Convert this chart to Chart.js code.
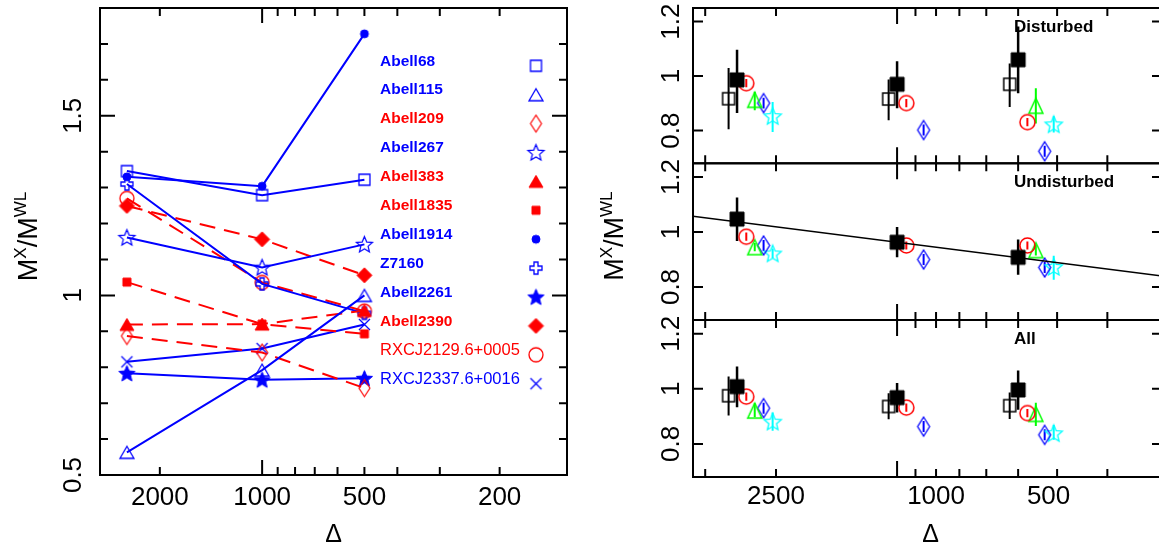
<!DOCTYPE html>
<html>
<head>
<meta charset="utf-8">
<title>M_X / M_WL versus Delta</title>
<script src="https://cdn.jsdelivr.net/npm/chart.js@4.4.1/dist/chart.umd.min.js"></script>
<style>
  html, body { margin: 0; padding: 0; background: #fff; overflow: hidden; }
  body { position: relative; width: 1159px; height: 550px; }
  .box { position: absolute; top: 0; }
</style>
</head>
<body>
<div class="box" style="left:0"><canvas id="cLeft" width="580" height="550"></canvas></div>
<div class="box" style="left:580px"><canvas id="cDist" width="600" height="550"></canvas></div>
<div class="box" style="left:580px"><canvas id="cUndist" width="600" height="550"></canvas></div>
<div class="box" style="left:580px"><canvas id="cAll" width="600" height="550"></canvas></div>
<script>
// ---------------- data ----------------
// overdensities at which the masses were compared
const deltas = [2500, 1000, 500];

// left panel: M_X / M_WL of each cluster at deltas
const clusterNames = ['Abell68', 'Abell115', 'Abell209', 'Abell267', 'Abell383', 'Abell1835',
  'Abell1914', 'Z7160', 'Abell2261', 'Abell2390', 'RXCJ2129.6+0005', 'RXCJ2337.6+0016'];
const abell68   = [1.346, 1.279, 1.322];
const abell115  = [0.563, 0.792, 1.000];
const abell209  = [0.887, 0.841, 0.742];
const abell267  = [1.161, 1.078, 1.142];
const abell383  = [0.919, 0.920, 0.958];
const abell1835 = [1.037, 0.920, 0.893];
const abell1914 = [1.330, 1.304, 1.728];
const z7160     = [1.310, 1.032, 0.950];
const abell2261 = [0.783, 0.765, 0.769];
const abell2390 = [1.249, 1.156, 1.056];
const rxcj2129  = [1.270, 1.036, 0.956];
const rxcj2337  = [0.815, 0.852, 0.919];

// right panels: sample averages (value, lower, upper end of the bar)
const distOpen    = [0.917, 0.916, 0.970];
const distOpenLo  = [0.805, 0.838, 0.887];
const distOpenHi  = [1.030, 0.988, 1.046];
const distFill    = [0.986, 0.970, 1.060];
const distFillLo  = [0.865, 0.882, 0.937];
const distFillHi  = [1.097, 1.055, 1.182];
const distCircle  = [0.974, 0.901, 0.831];
const distTri     = [0.913, null, 0.891];
const distTriLo   = [0.875, null, 0.826];
const distTriHi   = [0.943, null, 0.955];
const distDiam    = [0.901, 0.802, 0.724];
const distStar    = [0.853, null, 0.823];
const distStarLo  = [0.795, null, 0.793];
const distStarHi  = [0.905, null, 0.853];

const undFill     = [1.047, 0.963, 0.908];
const undFillLo   = [0.967, 0.908, 0.845];
const undFillHi   = [1.126, 1.018, 0.973];
const undCircle   = [0.983, 0.951, 0.951];
const undTri      = [0.945, null, 0.934];
const undTriLo    = [0.930, null, 0.915];
const undTriHi    = [0.960, null, 0.955];
const undDiam     = [0.951, 0.900, 0.871];
const undStar     = [0.922, null, 0.873];
const undStarLo   = [0.905, null, 0.826];
const undStarHi   = [0.940, null, 0.914];
// fitted relation for the undisturbed sample: y = fitA + fitB * log10(delta / 1000)
const fitA = 0.963;
const fitB = 0.186;
const fitDeltas = [3400, 200];

const allOpen     = [0.975, 0.936, 0.939];
const allOpenLo   = [0.903, 0.890, 0.891];
const allOpenHi   = [1.045, 0.984, 0.987];
const allFill     = [1.008, 0.968, 0.996];
const allFillLo   = [0.933, 0.914, 0.924];
const allFillHi   = [1.081, 1.021, 1.067];
const allCircle   = [0.972, 0.932, 0.912];
const allTri      = [0.921, null, 0.909];
const allTriLo    = [0.897, null, 0.865];
const allTriHi    = [0.948, null, 0.950];
const allDiam     = [0.930, 0.863, 0.833];
const allStar     = [0.881, null, 0.839];
const allStarLo   = [0.848, null, 0.815];
const allStarHi   = [0.914, null, 0.869];

const circleErr = 0.015;
const diamondErr = 0.02;

// ticks
const leftXTicks = [2000, 1000, 900, 800, 700, 600, 500, 400, 300, 200];
const leftXMajor = [1000];
const leftXLabelAt = [2000, 1000, 500, 200];
const leftXLabels = ['2000', '1000', '500', '200'];
const leftYTicks = [0.6, 0.7, 0.8, 0.9, 1.0, 1.1, 1.2, 1.3, 1.4, 1.5, 1.6, 1.7];
const leftYMajor = [1.0, 1.5];
const leftYLabelAt = [0.5, 1.0, 1.5];
const leftYLabels = ['0.5', '1', '1.5'];

const rightXTicks = [3000, 2000, 1000, 900, 800, 700, 600, 500, 400, 300];
const rightXMajor = [1000];
const rightXLabelAt = [2000, 800, 420];
const rightXLabels = ['2500', '1000', '500'];
const rightYTicks = [0.8, 1.0, 1.2];
const rightYLabelAt = [0.8, 1.0, 1.2];
const rightYLabels = ['0.8', '1', '1.2'];

// ---------------- styles ----------------
const FONT = '"Liberation Sans", Arial, sans-serif';
const BLUE = '#0000ff', RED = '#ff0000', GREEN = '#00ff00', CYAN = '#00ffff', BLACK = '#000000';

// draw a marker into a small canvas, used as a Chart.js pointStyle
function makeMarker(shape, w, h, color, filled, lw) {
  const pad = Math.ceil(lw) + 1;
  const c = document.createElement('canvas');
  c.width = Math.ceil(w) + 2 * pad;
  c.height = Math.ceil(h) + 2 * pad;
  const g = c.getContext('2d');
  g.translate(c.width / 2, c.height / 2);
  g.beginPath();
  const hw = w / 2, hh = h / 2;
  if (shape === 'square') {
    g.rect(-hw, -hh, w, h);
  } else if (shape === 'circle') {
    g.arc(0, 0, hw, 0, Math.PI * 2);
  } else if (shape === 'triangle') {
    g.moveTo(0, -hh); g.lineTo(hw, hh); g.lineTo(-hw, hh); g.closePath();
  } else if (shape === 'diamond') {
    g.moveTo(0, -hh); g.lineTo(hw, 0); g.lineTo(0, hh); g.lineTo(-hw, 0); g.closePath();
  } else if (shape === 'star') {
    const inner = hw * 0.45;
    for (let k = 0; k < 10; k++) {
      const r = k % 2 === 0 ? hw : inner;
      const ang = -Math.PI / 2 + k * Math.PI / 5;
      const px = r * Math.cos(ang), py = r * Math.sin(ang) + hw * 0.08;
      if (k === 0) g.moveTo(px, py); else g.lineTo(px, py);
    }
    g.closePath();
  } else if (shape === 'plus') {
    const a = w / 6;
    g.moveTo(-a, -hh); g.lineTo(a, -hh); g.lineTo(a, -a); g.lineTo(hw, -a); g.lineTo(hw, a);
    g.lineTo(a, a); g.lineTo(a, hh); g.lineTo(-a, hh); g.lineTo(-a, a); g.lineTo(-hw, a);
    g.lineTo(-hw, -a); g.lineTo(-a, -a); g.closePath();
  } else if (shape === 'x') {
    g.moveTo(-hw, -hh); g.lineTo(hw, hh); g.moveTo(hw, -hh); g.lineTo(-hw, hh);
  }
  if (filled) { g.fillStyle = color; g.fill(); }
  g.strokeStyle = color;
  g.lineWidth = lw;
  g.stroke();
  return c;
}

const clusterValues = [abell68, abell115, abell209, abell267, abell383, abell1835,
  abell1914, z7160, abell2261, abell2390, rxcj2129, rxcj2337];
const clusterColors = [BLUE, BLUE, RED, BLUE, RED, RED, BLUE, BLUE, BLUE, RED, RED, BLUE];
const clusterMarkers = [
  makeMarker('square', 11, 11, BLUE, false, 1.3),
  makeMarker('triangle', 14, 12, BLUE, false, 1.3),
  makeMarker('diamond', 11, 17, RED, false, 1.2),
  makeMarker('star', 17, 17, BLUE, false, 1.2),
  makeMarker('triangle', 14, 12, RED, true, 1),
  makeMarker('square', 8, 8, RED, true, 1),
  makeMarker('circle', 8, 8, BLUE, true, 1),
  makeMarker('plus', 12, 12, BLUE, false, 1.3),
  makeMarker('star', 17, 17, BLUE, true, 1),
  makeMarker('diamond', 15, 15, RED, true, 1),
  makeMarker('circle', 14, 14, RED, false, 1.3),
  makeMarker('x', 11, 11, BLUE, false, 1.3)
];

// right panels: markers of each sample
const mOpen = makeMarker('square', 12, 12, BLACK, false, 1.5);
const mFill = makeMarker('square', 14, 14, BLACK, true, 1);
const mCircle = makeMarker('circle', 15, 15, RED, false, 1.5);
const mTri = makeMarker('triangle', 14, 15, GREEN, false, 1.5);
const mDiam = makeMarker('diamond', 12, 19, BLUE, false, 1.3);
const mStar = makeMarker('star', 18, 18, CYAN, false, 1.3);

// ---------------- plugins ----------------
function drawRatioTitle(ctx, x, y) {
  const parts = [['M', 27, 0], ['X', 17, -11], ['/', 27, 0], ['M', 27, 0], ['WL', 17, -11]];
  ctx.save();
  ctx.translate(x, y);
  ctx.rotate(-Math.PI / 2);
  ctx.textAlign = 'left';
  ctx.textBaseline = 'alphabetic';
  let total = 0;
  parts.forEach(p => { ctx.font = p[1] + 'px ' + FONT; total += ctx.measureText(p[0]).width; });
  let cx = -total / 2;
  parts.forEach(p => {
    ctx.font = p[1] + 'px ' + FONT;
    ctx.fillText(p[0], cx, p[2]);
    cx += ctx.measureText(p[0]).width;
  });
  ctx.restore();
}

const framePlugin = {
  id: 'frame',
  afterDraw(chart, args, opts) {
    const ctx = chart.ctx, a = chart.chartArea, xs = chart.scales.x, ys = chart.scales.y;
    ctx.save();
    ctx.strokeStyle = BLACK;
    ctx.lineWidth = 2;
    ctx.strokeRect(a.left, a.top, a.right - a.left, a.bottom - a.top);

    // inward ticks on all four sides
    ctx.beginPath();
    opts.xTicks.forEach(v => {
      const px = xs.getPixelForValue(v);
      const len = opts.xMajor.indexOf(v) >= 0 ? opts.xMajorLen : opts.xMinorLen;
      ctx.moveTo(px, a.bottom); ctx.lineTo(px, a.bottom - len);
      ctx.moveTo(px, a.top); ctx.lineTo(px, a.top + len);
    });
    opts.yTicks.forEach(v => {
      const py = ys.getPixelForValue(v);
      const len = opts.yMajor.indexOf(v) >= 0 ? opts.yMajorLen : opts.yMinorLen;
      ctx.moveTo(a.left, py); ctx.lineTo(a.left + len, py);
      ctx.moveTo(a.right, py); ctx.lineTo(a.right - len, py);
    });
    ctx.stroke();

    ctx.fillStyle = BLACK;
    ctx.font = '26px ' + FONT;
    ctx.textAlign = 'center';
    ctx.textBaseline = 'middle';
    if (opts.xLabels) {
      opts.xLabels.forEach((t, i) => {
        ctx.fillText(t, xs.getPixelForValue(opts.xLabelAt[i]), a.bottom + opts.xLabelGap);
      });
    }
    opts.yLabels.forEach((t, i) => {
      ctx.save();
      ctx.translate(a.left - opts.yLabelGap, ys.getPixelForValue(opts.yLabelAt[i]));
      ctx.rotate(-Math.PI / 2);
      ctx.fillText(t, 0, 0);
      ctx.restore();
    });
    if (opts.xTitle) {
      ctx.font = '25px ' + FONT;
      ctx.fillText('\u0394', (a.left + a.right) / 2 + opts.xTitle[0], a.bottom + opts.xTitle[1]);
    }
    if (opts.yTitle) {
      drawRatioTitle(ctx, a.left + opts.yTitle[0], (a.top + a.bottom) / 2 + opts.yTitle[1]);
    }
    if (opts.panelName) {
      ctx.font = 'bold 17px ' + FONT;
      ctx.textAlign = 'left';
      ctx.fillText(opts.panelName, a.left + 321, a.top + 19.5);
    }
    if (opts.legend) {
      ctx.textAlign = 'left';
      chart.data.datasets.forEach((ds, i) => {
        const ty = a.top + 53.3 + i * 28.9;
        ctx.fillStyle = ds.borderColor;
        ctx.font = ds.label.indexOf('RXCJ') === 0 ? '16.5px ' + FONT : 'bold 15.5px ' + FONT;
        ctx.fillText(ds.label, a.left + 280, ty);
        const img = ds.pointStyle;
        ctx.drawImage(img, a.left + 436 - img.width / 2, ty + 4.5 - img.height / 2);
      });
    }
    ctx.restore();
  }
};

const errorBarPlugin = {
  id: 'errorBars',
  beforeDatasetsDraw(chart) {
    const ctx = chart.ctx, ys = chart.scales.y;
    chart.data.datasets.forEach((ds, i) => {
      if (!ds.errWidth) return;
      const meta = chart.getDatasetMeta(i);
      ctx.save();
      ctx.strokeStyle = ds.errColor;
      ctx.lineWidth = ds.errWidth;
      ctx.beginPath();
      ds.data.forEach((p, j) => {
        const el = meta.data[j];
        ctx.moveTo(el.x, ys.getPixelForValue(p.lo));
        ctx.lineTo(el.x, ys.getPixelForValue(p.hi));
      });
      ctx.stroke();
      ctx.restore();
    });
  }
};

Chart.register(framePlugin, errorBarPlugin);
Chart.defaults.font.family = FONT;

function baseOptions(xMin, xMax, yMin, yMax, padding, frame) {
  return {
    responsive: false,
    animation: false,
    events: [],
    layout: { padding: padding },
    plugins: { legend: { display: false }, tooltip: { enabled: false }, frame: frame },
    scales: {
      x: { type: 'logarithmic', reverse: true, min: xMin, max: xMax, bounds: 'data', display: false },
      y: { type: 'linear', min: yMin, max: yMax, display: false }
    }
  };
}

// ---------------- left panel ----------------
const leftDatasets = clusterNames.map((name, i) => ({
  label: name,
  data: deltas.map((d, j) => ({ x: d, y: clusterValues[i][j] })),
  showLine: true,
  borderColor: clusterColors[i],
  backgroundColor: clusterColors[i],
  borderWidth: 2,
  borderDash: clusterColors[i] === RED ? [16, 9] : [],
  pointStyle: clusterMarkers[i],
  pointRadius: 6
}));

new Chart(document.getElementById('cLeft'), {
  type: 'scatter',
  data: { datasets: leftDatasets },
  options: baseOptions(126.7, 3000, 0.5, 1.8, { left: 100, top: 5, right: 13, bottom: 75 }, {
    xTicks: leftXTicks, xMajor: leftXMajor, xMinorLen: 8, xMajorLen: 15,
    yTicks: leftYTicks, yMajor: leftYMajor, yMinorLen: 8, yMajorLen: 15,
    xLabels: leftXLabels, xLabelAt: leftXLabelAt, xLabelGap: 23,
    yLabels: leftYLabels, yLabelAt: leftYLabelAt, yLabelGap: 26,
    xTitle: [0, 60], yTitle: [-63, -5], legend: true
  })
});

// ---------------- right panels ----------------
function sample(vals, lo, hi, halfErr, shiftDex, marker, color, barWidth) {
  const pts = [];
  vals.forEach((v, j) => {
    if (v === null) return;
    pts.push({
      x: deltas[j] * Math.pow(10, shiftDex),
      y: v,
      lo: lo ? lo[j] : v - halfErr,
      hi: hi ? hi[j] : v + halfErr
    });
  });
  return {
    data: pts, pointStyle: marker, pointRadius: 7, showLine: false,
    borderColor: color, backgroundColor: color, errColor: color, errWidth: barWidth
  };
}

function rightFrame(name, withAxis, withTitle) {
  return {
    xTicks: rightXTicks, xMajor: rightXMajor, xMinorLen: 8, xMajorLen: 16,
    yTicks: rightYTicks, yMajor: [], yMinorLen: 10, yMajorLen: 10,
    xLabels: withAxis ? rightXLabels : null, xLabelAt: rightXLabelAt, xLabelGap: 20,
    yLabels: rightYLabels, yLabelAt: rightYLabelAt, yLabelGap: 21,
    xTitle: withAxis ? [3, 58] : null, yTitle: withTitle ? [-70, -5.5] : null,
    panelName: name, legend: false
  };
}

const rXMin = 219.4, rXMax = 3217, rYMin = 0.68, rYMax = 1.25;

new Chart(document.getElementById('cDist'), {
  type: 'scatter',
  data: { datasets: [
    sample(distOpen, distOpenLo, distOpenHi, 0, 0.021, mOpen, BLACK, 2),
    sample(distFill, distFillLo, distFillHi, 0, 0, mFill, BLACK, 2.5),
    sample(distCircle, null, null, circleErr, -0.023, mCircle, RED, 2),
    sample(distTri, distTriLo, distTriHi, 0, -0.044, mTri, GREEN, 2),
    sample(distDiam, null, null, diamondErr, -0.066, mDiam, BLUE, 2),
    sample(distStar, distStarLo, distStarHi, 0, -0.0885, mStar, CYAN, 2)
  ] },
  options: baseOptions(rXMin, rXMax, rYMin, rYMax, { left: 113, top: 6.7, right: 18, bottom: 386.7 },
    rightFrame('Disturbed', false, false))
});

new Chart(document.getElementById('cUndist'), {
  type: 'scatter',
  data: { datasets: [
    {
      data: fitDeltas.map(d => ({ x: d, y: fitA + fitB * Math.log10(d / 1000) })),
      showLine: true, pointRadius: 0, borderColor: BLACK, borderWidth: 1.5
    },
    sample(undFill, undFillLo, undFillHi, 0, 0, mFill, BLACK, 2.5),
    sample(undCircle, null, null, circleErr, -0.023, mCircle, RED, 2),
    sample(undTri, undTriLo, undTriHi, 0, -0.044, mTri, GREEN, 2),
    sample(undDiam, null, null, diamondErr, -0.066, mDiam, BLUE, 2),
    sample(undStar, undStarLo, undStarHi, 0, -0.0885, mStar, CYAN, 2)
  ] },
  options: baseOptions(rXMin, rXMax, rYMin, rYMax, { left: 113, top: 163.3, right: 18, bottom: 230 },
    rightFrame('Undisturbed', false, true))
});

new Chart(document.getElementById('cAll'), {
  type: 'scatter',
  data: { datasets: [
    sample(allOpen, allOpenLo, allOpenHi, 0, 0.021, mOpen, BLACK, 2),
    sample(allFill, allFillLo, allFillHi, 0, 0, mFill, BLACK, 2.5),
    sample(allCircle, null, null, circleErr, -0.023, mCircle, RED, 2),
    sample(allTri, allTriLo, allTriHi, 0, -0.044, mTri, GREEN, 2),
    sample(allDiam, null, null, diamondErr, -0.066, mDiam, BLUE, 2),
    sample(allStar, allStarLo, allStarHi, 0, -0.0885, mStar, CYAN, 2)
  ] },
  options: baseOptions(rXMin, rXMax, rYMin, rYMax, { left: 113, top: 320, right: 18, bottom: 73 },
    rightFrame('All', true, false))
});
</script>
</body>
</html>
